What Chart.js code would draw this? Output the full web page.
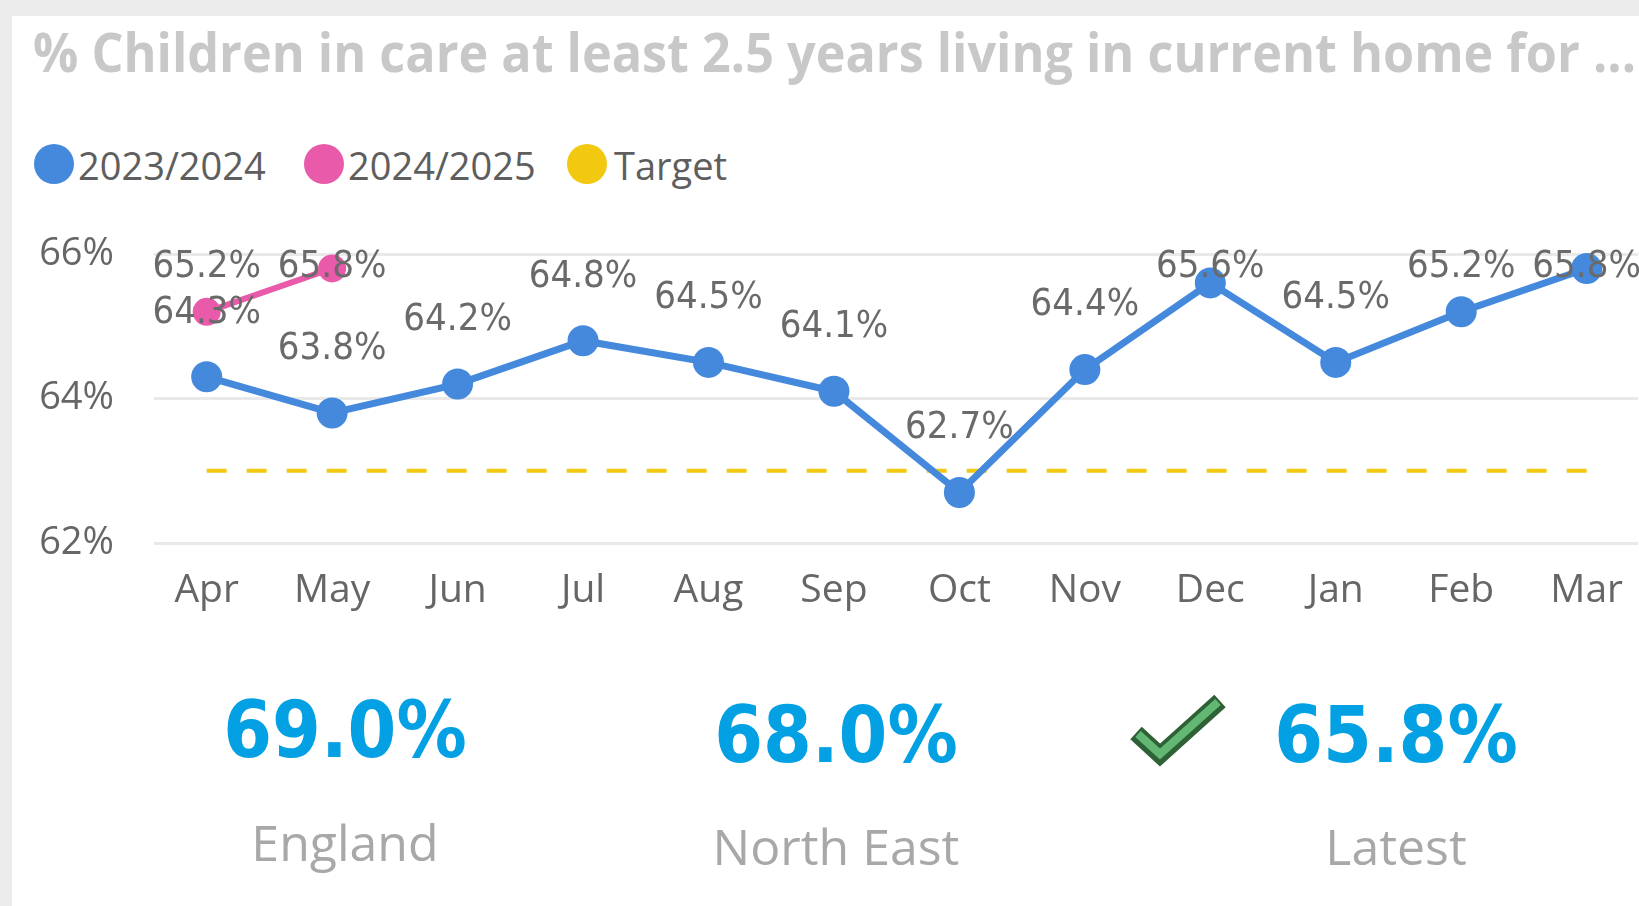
<!DOCTYPE html>
<html><head><meta charset="utf-8">
<script src="https://cdn.jsdelivr.net/npm/chart.js@4.4.1/dist/chart.umd.min.js"></script>
<style>
html,body{margin:0;padding:0;width:1639px;height:906px;overflow:hidden;background:#EBEBEB;}
#card{position:absolute;left:12px;top:16px;right:0;bottom:0;background:#fff;}
#wrap{position:absolute;left:0;top:0;width:1639px;height:906px;}
.t{position:absolute;white-space:nowrap;line-height:1;}
#title{left:33px;top:15px;font:700 53px "Open Sans",sans-serif;color:#C8C8C8;transform-origin:0 0;}
.dot{position:absolute;width:40px;height:40px;border-radius:50%;top:144px;}
.leg{font:400 38px "Open Sans",sans-serif;color:#5E5E5E;top:139px;}
.kv{font:700 78px "DejaVu Sans Condensed","DejaVu Sans",sans-serif;color:#03A0E3;width:400px;text-align:center;}
.kl{font:400 50px "Open Sans",sans-serif;color:#A8A8A8;width:400px;text-align:center;}
#check{position:absolute;left:0;top:0;}
</style></head>
<body>
<div id="card"></div>
<div id="title" class="t">% Children in care at least 2.5 years living in current home for ...</div>
<div id="legend"></div>
<div id="wrap"><canvas id="c"></canvas></div>
<div id="kpis"></div>
<svg id="check" width="1639" height="906">
  <polyline points="1136,733 1160,755 1220,701" fill="none" stroke="#2E6136" stroke-width="17" stroke-linejoin="miter" stroke-linecap="butt"/>
  <polyline points="1138,734 1160,754 1218,702" fill="none" stroke="#62B872" stroke-width="8" stroke-linejoin="miter" stroke-linecap="butt"/>
</svg>
<script>
// ---- data ----
const months = ['Apr','May','Jun','Jul','Aug','Sep','Oct','Nov','Dec','Jan','Feb','Mar'];
const fy2324 = [64.3,63.8,64.2,64.8,64.5,64.1,62.7,64.4,65.6,64.5,65.2,65.8];
const fy2425 = [65.2,65.8];
const target = [63,63,63,63,63,63,63,63,63,63,63,63];
const yTicks = [62,64,66];
const seriesNames = ['2023/2024','2024/2025','Target'];
const seriesColors = ['#4589DD','#E95BAA','#F2C811'];
const kpiValues = ['69.0%','68.0%','65.8%'];
const kpiLabels = ['England','North East','Latest'];

// ---- title fit ----
const titleEl = document.getElementById('title');
const tw = titleEl.getBoundingClientRect().width;
titleEl.style.transform = 'scaleX(' + (1603 / tw) + ')';

// ---- legend ----
const legend = document.getElementById('legend');
const legDots = [54, 324, 587];
const legText = [78, 348, 614];
seriesNames.forEach((n, i) => {
  const d = document.createElement('div');
  d.className = 'dot'; d.style.left = (legDots[i] - 20) + 'px'; d.style.background = seriesColors[i];
  legend.appendChild(d);
  const s = document.createElement('div');
  s.className = 't leg'; s.style.left = legText[i] + 'px'; s.textContent = n;
  legend.appendChild(s);
});

// ---- KPIs ----
const kpis = document.getElementById('kpis');
const kpiX = [345, 836, 1396];
const kpiTop = [685, 690, 690];
const klTop = [808, 812, 812];
kpiValues.forEach((v, i) => {
  const a = document.createElement('div');
  a.className = 't kv'; a.style.left = (kpiX[i] - 200) + 'px'; a.style.top = kpiTop[i] + 'px'; a.textContent = v;
  kpis.appendChild(a);
  const b = document.createElement('div');
  b.className = 't kl'; b.style.left = (kpiX[i] - 200) + 'px'; b.style.top = klTop[i] + 'px'; b.textContent = kpiLabels[i];
  kpis.appendChild(b);
});

// ---- chart ----
const toXY = arr => arr.map((v, i) => ({x: i, y: v}));
const valueLabels = {
  id: 'valueLabels',
  afterDatasetsDraw(chart) {
    const ctx = chart.ctx;
    ctx.save();
    ctx.font = '38px "DejaVu Sans Condensed","DejaVu Sans",sans-serif';
    ctx.fillStyle = '#6A6A6A';
    ctx.textAlign = 'center';
    ctx.textBaseline = 'middle';
    [0, 1].forEach(di => {
      const meta = chart.getDatasetMeta(di);
      const ds = chart.data.datasets[di].data;
      meta.data.forEach((pt, i) => {
        const v = ds[i].y;
        if (v == null) return;
        const y = Math.max(pt.y - 64, 267);
        ctx.fillText(v.toFixed(1) + '%', pt.x, y);
      });
    });
    ctx.restore();
  }
};

new Chart(document.getElementById('c'), {
  type: 'line',
  data: {
    datasets: [
      {label: seriesNames[0], data: toXY(fy2324), borderColor: seriesColors[0], backgroundColor: seriesColors[0],
       borderWidth: 7, pointRadius: 15.5, pointBorderWidth: 0, pointBackgroundColor: seriesColors[0], clip: false, tension: 0},
      {label: seriesNames[1], data: toXY(fy2425), borderColor: seriesColors[1], backgroundColor: seriesColors[1],
       borderWidth: 6, pointRadius: 14, pointBorderWidth: 0, pointBackgroundColor: seriesColors[1], clip: false, tension: 0},
      {label: seriesNames[2], data: toXY(target), borderColor: seriesColors[2], backgroundColor: seriesColors[2],
       borderWidth: 4, borderDash: [20, 20], pointRadius: 0, clip: false, tension: 0}
    ]
  },
  options: {
    responsive: true, maintainAspectRatio: false, animation: false, events: [],
    layout: {autoPadding: false, padding: {top: 254, left: 0, right: 0, bottom: 263}},
    plugins: {legend: {display: false}, tooltip: {enabled: false}, title: {display: false}},
    scales: {
      x: {
        type: 'linear', min: -0.42, max: 11.41,
        afterBuildTicks: s => { s.ticks = months.map((m, i) => ({value: i})); },
        afterFit: s => { s.height = 100; },
        grid: {display: false}, border: {display: false},
        ticks: {autoSkip: false, maxRotation: 0, padding: 16, color: '#666666',
                font: {family: '"Open Sans"', size: 39},
                callback: v => months[v] ?? ''}
      },
      y: {
        min: 62, max: 66,
        afterBuildTicks: s => { s.ticks = yTicks.map(v => ({value: v})); },
        afterFit: s => { s.width = 154; },
        grid: {color: '#E9E9E9', lineWidth: 3, drawTicks: false}, border: {display: false},
        ticks: {padding: 40, color: '#666666', font: {family: '"Open Sans"', size: 38},
                callback: v => v + '%'}
      }
    }
  },
  plugins: [valueLabels]
});
</script>
</body></html>
